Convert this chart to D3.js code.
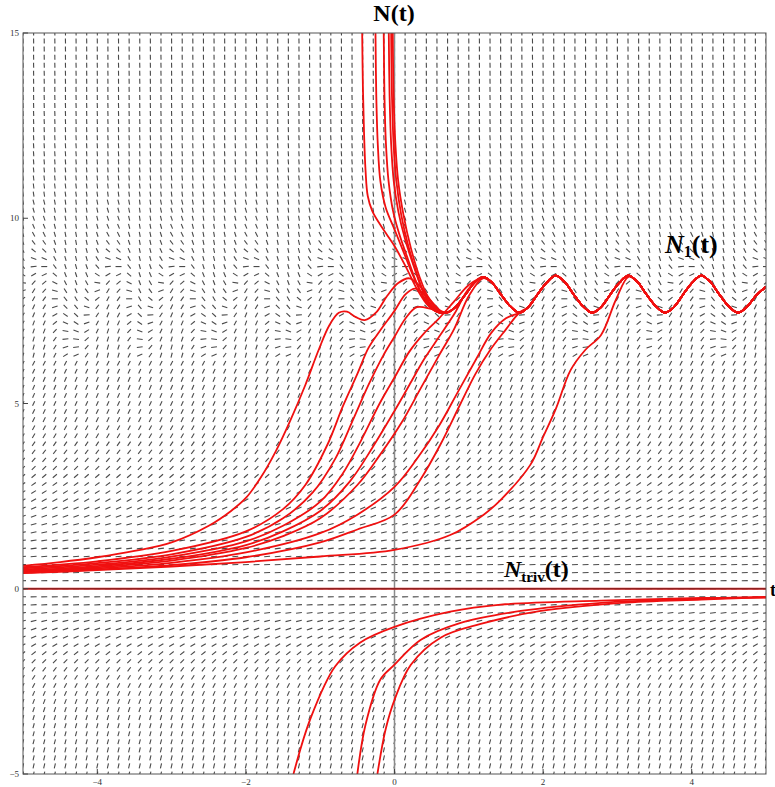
<!DOCTYPE html>
<html>
<head>
<meta charset="utf-8">
<script src="https://cdn.jsdelivr.net/npm/d3@7"></script>
<style>
body { margin: 0; background: #fff; }
</style>
</head>
<body>
<script>
// axis domains and ticks
const tDomain = [-5, 5];
const nDomain = [-5, 15];
const xTickValues = [-4, -2, 0, 2, 4];
const yTickValues = [-5, 0, 5, 10, 15];

// direction field grid: t step 1/7, N step 20/92
const fieldCols = 70;
const fieldRows = 92;

// slope dN/dt of each field row (read from the dashes), bottom row first
const rowSlopes = [
  9.4, 8.7, 8.3, 8.0, 7.7, 7.5, 7.0, 6.5, 5.8, 5.2,
  4.5, 3.8, 3.1, 2.6, 2.07, 1.56, 1.2, 0.89, 0.65, 0.46,
  0.28, 0.14, 0.035, 0, 0.02, 0.05, 0.1, 0.17, 0.25, 0.32,
  0.43, 0.54, 0.69, 0.85, 1.06, 1.25, 1.45, 1.68, 2.0, 2.3,
  2.65, 2.97, 3.3, 3.6, 3.9, 4.1, 4.3, 4.5, 4.5, 4.5,
  4.3, 3.9, 4, 4, 4, 4, 3, 2, 1, 0,
  -1, -2, -3, -4, -5, -6, -7, -8, -9, -10,
  -11, -12, -14, -16, -18, -20, -23, -26, -29, -32,
  -36, -40, -45, -50, -55, -60, -66, -72, -80, -88,
  -96, -105, -115
];

// rows 52..71 depend on the phase of the oscillation (7 phases per period,
// phase 0 = trough of N1)
const bandFirstRow = 52;
const bandTrough = 0.70;
const bandPeriod = 0.98;
const bandSlopes = [
  [2.9, 5.85, 7.5, 6.6, 3.9, 1.3, 0.85],
  [2.3, 5.3, 7.0, 6.1, 3.3, 0.7, 0.3],
  [1.8, 4.75, 6.4, 5.5, 2.8, 0.2, -0.25],
  [1.2, 4.2, 5.9, 5.0, 2.2, -0.4, -0.8],
  [0.7, 3.7, 5.3, 4.5, 1.7, -0.9, -1.3],
  [0.15, 3.1, 4.8, 3.9, 1.1, -1.4, -1.9],
  [-0.7, 2.6, 4.2, 3.4, 0.6, -2.0, -2.4],
  [-1.7, 1.6, 3.7, 2.8, 0, -2.5, -3.4],
  [-2.7, 0.7, 3.2, 2.3, -0.5, -3.1, -4.3],
  [-3.6, -0.3, 2.2, 1.7, -1.0, -4.0, -5.3],
  [-4.6, -1.3, 1.2, 1.0, -1.75, -5.0, -6.3],
  [-5.6, -2.3, 0.2, 0.0, -2.7, -6.0, -7.3],
  [-6.6, -3.2, -0.7, -0.9, -3.7, -6.9, -8.2],
  [-7.6, -4.2, -1.7, -1.9, -4.7, -7.9, -9.2],
  [-8.6, -5.2, -2.7, -2.9, -5.7, -8.9, -10.2],
  [-9.6, -6.2, -3.7, -3.9, -6.7, -9.9, -11.2],
  [-10.6, -7.2, -4.7, -4.9, -7.7, -10.9, -12.2],
  [-11.6, -8.2, -5.7, -5.9, -8.7, -11.9, -13.2],
  [-12.6, -9.2, -6.7, -6.9, -9.7, -12.9, -14.2],
  [-13.6, -10.2, -7.7, -7.9, -10.7, -13.9, -15.2]
];

// periodic solution N1(t), shared by all upper curves once they merge
const n1Tail = [
  [0.70, 7.45], [0.82, 7.6], [0.95, 7.93], [1.07, 8.25], [1.19, 8.42],
  [1.31, 8.27], [1.43, 7.95], [1.56, 7.62], [1.68, 7.45], [1.80, 7.6],
  [1.92, 7.93], [2.05, 8.27], [2.17, 8.45], [2.29, 8.28], [2.41, 7.95],
  [2.54, 7.62], [2.66, 7.45], [2.78, 7.6], [2.90, 7.93], [3.03, 8.27],
  [3.15, 8.45], [3.27, 8.28], [3.39, 7.95], [3.52, 7.62], [3.64, 7.45],
  [3.76, 7.6], [3.88, 7.93], [4.01, 8.27], [4.13, 8.45], [4.25, 8.28],
  [4.37, 7.95], [4.50, 7.62], [4.62, 7.45], [4.74, 7.6], [4.86, 7.9],
  [5.0, 8.15]
];

// upper solutions, each until it joins N1 (joinAt = t where it meets n1Tail)
const risingCurves = [
  { joinAt: 0.82, pts: [[-5, 0.62], [-4.5, 0.72], [-4, 0.85], [-3.5, 1.02], [-3, 1.25], [-2.5, 1.7], [-2.2, 2.1], [-2.0, 2.45], [-1.8, 3.0], [-1.6, 3.7], [-1.4, 4.55], [-1.2, 5.5], [-1.02, 6.45], [-0.88, 7.1], [-0.75, 7.45], [-0.64, 7.48], [-0.52, 7.33], [-0.4, 7.25], [-0.25, 7.45], [-0.1, 7.9], [0.05, 8.25], [0.2, 8.38], [0.35, 8.15], [0.5, 7.75], [0.62, 7.5], [0.70, 7.45]] },
  { joinAt: 0.82, pts: [[-5, 0.58], [-4, 0.74], [-3, 1.02], [-2, 1.55], [-1.5, 2.15], [-1.2, 2.8], [-0.9, 3.9], [-0.7, 4.9], [-0.5, 5.8], [-0.35, 6.5], [-0.2, 6.95], [0, 7.5], [0.15, 7.95], [0.28, 8.1], [0.45, 7.85], [0.6, 7.5], [0.70, 7.45]] },
  { joinAt: 0.82, pts: [[-5, 0.55], [-4, 0.69], [-3, 0.93], [-2, 1.4], [-1.5, 1.9], [-1.1, 2.6], [-0.8, 3.5], [-0.55, 4.6], [-0.35, 5.5], [-0.15, 6.3], [0, 6.8], [0.15, 7.3], [0.3, 7.6], [0.5, 7.55], [0.70, 7.45]] },
  { joinAt: 1.31, pts: [[-5, 0.52], [-4, 0.65], [-3, 0.87], [-2, 1.28], [-1.5, 1.7], [-1.0, 2.35], [-0.7, 3.1], [-0.45, 4.0], [-0.2, 5.0], [0, 5.7], [0.2, 6.4], [0.4, 6.9], [0.6, 7.3], [0.8, 7.75], [1.0, 8.2], [1.19, 8.4]] },
  { joinAt: 1.31, pts: [[-5, 0.49], [-4, 0.61], [-3, 0.81], [-2, 1.18], [-1.5, 1.55], [-1.0, 2.1], [-0.6, 2.9], [-0.3, 3.8], [0, 4.8], [0.2, 5.5], [0.4, 6.2], [0.6, 6.8], [0.8, 7.4], [1.0, 8.1], [1.19, 8.4]] },
  { joinAt: 1.31, pts: [[-5, 0.47], [-4, 0.58], [-3, 0.76], [-2, 1.1], [-1.5, 1.42], [-1.0, 1.9], [-0.5, 2.8], [-0.2, 3.6], [0.1, 4.5], [0.35, 5.4], [0.6, 6.3], [0.8, 7.0], [1.0, 7.9], [1.19, 8.38]] },
  { joinAt: 1.80, pts: [[-5, 0.45], [-4, 0.55], [-3, 0.7], [-2, 0.98], [-1.0, 1.5], [-0.5, 2.0], [0, 2.75], [0.3, 3.5], [0.6, 4.4], [0.85, 5.3], [1.1, 6.2], [1.3, 6.9], [1.5, 7.3], [1.68, 7.45]] },
  { joinAt: 1.80, pts: [[-5, 0.43], [-4, 0.52], [-3, 0.64], [-2, 0.85], [-1.0, 1.25], [-0.5, 1.6], [0, 2.0], [0.35, 2.95], [0.62, 3.9], [0.89, 5.0], [1.09, 5.8], [1.29, 6.45], [1.5, 7.0], [1.68, 7.45]] },
  { joinAt: 3.27, pts: [[-5, 0.42], [-4, 0.5], [-3, 0.6], [-2, 0.72], [-1, 0.87], [0, 1.05], [0.75, 1.45], [1.2, 2.0], [1.43, 2.4], [1.83, 3.35], [2.0, 4.1], [2.17, 4.85], [2.37, 5.9], [2.57, 6.45], [2.78, 6.85], [2.98, 7.8], [3.15, 8.42]] }
];

// curves coming down from the top, until they join N1
const fallingCurves = [
  { joinAt: 0.82, pts: [[-0.435, 15], [-0.425, 13.5], [-0.41, 12.3], [-0.39, 11.3], [-0.36, 10.6], [-0.3, 10.2], [-0.2, 9.85], [-0.1, 9.55], [0, 9.25], [0.15, 8.7], [0.3, 8.1], [0.45, 7.65], [0.6, 7.45], [0.7, 7.45]] },
  { joinAt: 0.82, pts: [[-0.256, 15], [-0.245, 13.3], [-0.225, 12], [-0.19, 11], [-0.12, 10.3], [0, 9.7], [0.12, 9.1], [0.25, 8.45], [0.4, 7.85], [0.55, 7.5], [0.7, 7.45]] },
  { joinAt: 0.82, pts: [[-0.145, 15], [-0.135, 13.3], [-0.115, 12], [-0.08, 11], [-0.02, 10.2], [0.06, 9.6], [0.18, 8.9], [0.32, 8.15], [0.48, 7.6], [0.62, 7.45], [0.72, 7.46]] },
  { joinAt: 0.82, pts: [[-0.077, 15], [-0.066, 13.3], [-0.045, 12], [-0.01, 11], [0.05, 10.2], [0.14, 9.45], [0.26, 8.7], [0.4, 7.95], [0.55, 7.5], [0.7, 7.45]] },
  { joinAt: 0.82, pts: [[-0.045, 15], [-0.034, 13.3], [-0.012, 12], [0.025, 11], [0.09, 10.1], [0.18, 9.3], [0.3, 8.5], [0.43, 7.85], [0.58, 7.5], [0.7, 7.45]] },
  { joinAt: 0.82, pts: [[-0.023, 15], [-0.012, 13.3], [0.012, 12], [0.05, 11], [0.12, 10.1], [0.22, 9.2], [0.34, 8.4], [0.47, 7.8], [0.6, 7.48], [0.72, 7.46]] }
];

// negative solutions
const lowerCurves = [
  [[-1.36, -5], [-1.13, -3.5], [-0.8, -2.1], [-0.46, -1.45], [0, -1.03], [0.75, -0.62], [1.43, -0.43], [2.78, -0.32], [4.13, -0.25], [5, -0.24]],
  [[-0.5, -5], [-0.39, -3.67], [-0.19, -2.45], [0, -2.05], [0.35, -1.38], [0.89, -0.92], [1.7, -0.6], [2.78, -0.38], [4.13, -0.27], [5, -0.22]],
  [[-0.23, -5], [-0.12, -3.8], [0, -3.0], [0.22, -2.05], [0.62, -1.32], [1.16, -0.95], [1.97, -0.6], [3.05, -0.38], [4.13, -0.29], [5, -0.23]]
];

function main() {
  const width = 775, height = 787;
  const left = 23, right = 766, top = 33, bottom = 774;

  const svg = d3.select("body").append("svg")
    .attr("width", width)
    .attr("height", height)
    .style("font-family", "'Liberation Serif', 'DejaVu Serif', serif");

  const x = d3.scaleLinear().domain(tDomain).range([left, right]);
  const y = d3.scaleLinear().domain(nDomain).range([bottom, top]);

  svg.append("defs").append("clipPath").attr("id", "plotclip")
    .append("rect")
    .attr("x", left).attr("y", top)
    .attr("width", right - left).attr("height", bottom - top);

  const plot = svg.append("g").attr("clip-path", "url(#plotclip)");

  // direction field
  const dashes = [];
  for (let j = 0; j <= fieldCols; j++) {
    const t = tDomain[0] + j * (tDomain[1] - tDomain[0]) / fieldCols;
    let f = ((t - bandTrough) / bandPeriod) % 1;
    if (f < 0) f += 1;
    const phase = Math.round(f * 7) % 7;
    for (let k = 0; k <= fieldRows; k++) {
      const n = nDomain[0] + k * (nDomain[1] - nDomain[0]) / fieldRows;
      const b = k - bandFirstRow;
      const s = (b >= 0 && b < bandSlopes.length) ? bandSlopes[b][phase] : rowSlopes[k];
      dashes.push({t: t, n: n, s: s});
    }
  }

  plot.append("g").selectAll("line")
    .data(dashes)
    .enter()
    .append("line")
    .each(function(d) {
      const cx = x(d.t), cy = y(d.n);
      const dx = x(d.t + 1) - cx;
      const dy = y(d.n + d.s) - cy;
      const len = Math.sqrt(dx * dx + dy * dy);
      const L = 6 - Math.abs(dy / len);
      const ux = dx / len * L / 2, uy = dy / len * L / 2;
      d3.select(this)
        .attr("x1", cx - ux).attr("y1", cy - uy)
        .attr("x2", cx + ux).attr("y2", cy + uy);
    })
    .attr("stroke", "#4a4a4a")
    .attr("stroke-width", 1.1);

  // axes through the origin
  plot.append("line")
    .attr("x1", x(0)).attr("x2", x(0))
    .attr("y1", top).attr("y2", bottom)
    .attr("stroke", "#8a8a8a").attr("stroke-width", 1.5);

  plot.append("line")
    .attr("x1", left).attr("x2", right)
    .attr("y1", y(0)).attr("y2", y(0))
    .attr("stroke", "#d22").attr("stroke-width", 2);
  plot.append("line")
    .attr("x1", left).attr("x2", right)
    .attr("y1", y(0)).attr("y2", y(0))
    .attr("stroke", "#522").attr("stroke-width", 0.8);

  // solution curves
  const line = d3.line()
    .x(function(d) { return x(d[0]); })
    .y(function(d) { return y(d[1]); })
    .curve(d3.curveCatmullRom.alpha(0.5));

  function withTail(c) {
    return c.pts.concat(n1Tail.filter(function(p) { return p[0] >= c.joinAt; }));
  }

  const allUpper = risingCurves.concat(fallingCurves).map(withTail);

  plot.append("g").selectAll("path")
    .data(allUpper.concat(lowerCurves))
    .enter()
    .append("path")
    .attr("d", line)
    .attr("fill", "none")
    .attr("stroke", "#f01010")
    .attr("stroke-width", 1.8);

  // frame and ticks
  svg.append("rect")
    .attr("x", left).attr("y", top)
    .attr("width", right - left).attr("height", bottom - top)
    .attr("fill", "none")
    .attr("stroke", "#555")
    .attr("stroke-width", 1);

  svg.append("g").selectAll("line")
    .data(xTickValues)
    .enter()
    .append("line")
    .attr("x1", function(d) { return x(d); })
    .attr("x2", function(d) { return x(d); })
    .attr("y1", bottom).attr("y2", bottom - 5)
    .attr("stroke", "#444");

  svg.append("g").selectAll("line")
    .data(yTickValues)
    .enter()
    .append("line")
    .attr("x1", left).attr("x2", left + 5)
    .attr("y1", function(d) { return y(d); })
    .attr("y2", function(d) { return y(d); })
    .attr("stroke", "#444");

  svg.append("g").selectAll("text")
    .data(xTickValues)
    .enter()
    .append("text")
    .attr("x", function(d) { return x(d); })
    .attr("y", bottom + 11)
    .attr("text-anchor", "middle")
    .attr("font-size", 9)
    .attr("fill", "#333")
    .text(function(d) { return d < 0 ? "\u2212" + (-d) : d; });

  svg.append("g").selectAll("text")
    .data(yTickValues)
    .enter()
    .append("text")
    .attr("x", left - 4)
    .attr("y", function(d) { return y(d) + 3; })
    .attr("text-anchor", "end")
    .attr("font-size", 9)
    .attr("fill", "#333")
    .text(function(d) { return d < 0 ? "\u2212" + (-d) : d; });

  // labels
  svg.append("text")
    .attr("x", 394).attr("y", 21)
    .attr("text-anchor", "middle")
    .attr("font-size", 24)
    .attr("font-weight", "bold")
    .text("N(t)");

  svg.append("text")
    .attr("x", 770).attr("y", 596)
    .attr("font-size", 18)
    .attr("font-weight", "bold")
    .text("t");

  const n1Label = svg.append("text")
    .attr("x", 665).attr("y", 253)
    .attr("font-size", 26)
    .attr("font-weight", "bold");
  n1Label.append("tspan").attr("font-style", "italic").text("N");
  n1Label.append("tspan").attr("font-size", 16).attr("dy", 4).text("1");
  n1Label.append("tspan").attr("dy", -4).text("(t)");

  const trivLabel = svg.append("text")
    .attr("x", 504).attr("y", 577)
    .attr("font-size", 24)
    .attr("font-weight", "bold");
  trivLabel.append("tspan").attr("font-style", "italic").text("N");
  trivLabel.append("tspan").attr("font-size", 15).attr("dy", 5).text("triv");
  trivLabel.append("tspan").attr("dy", -5).text("(t)");
}

main();
</script>
</body>
</html>
